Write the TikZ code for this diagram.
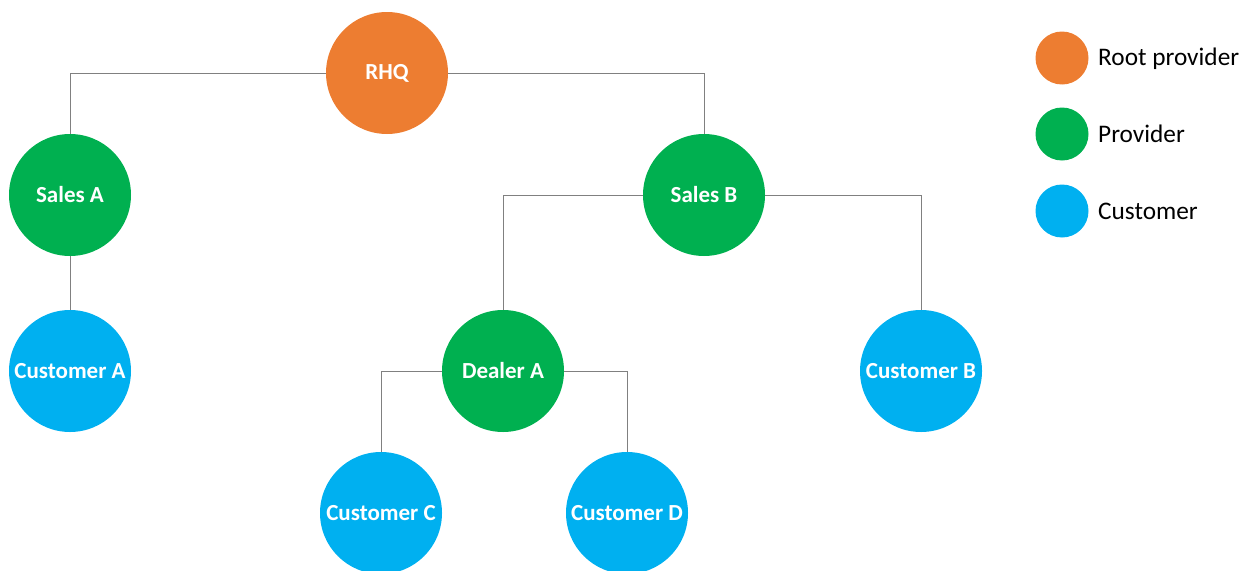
\documentclass[tikz,border=0pt]{standalone}
\usepackage{fontspec}
\setmainfont{Carlito}
\definecolor{rootc}{HTML}{ED7D31}
\definecolor{provc}{HTML}{00B050}
\definecolor{custc}{HTML}{00B0F0}
\definecolor{linec}{HTML}{808080}
\tikzset{
  org/.style={circle, minimum size=122pt, inner sep=0pt, text=white, font=\fontsize{23}{26}\selectfont\bfseries},
  rootn/.style={org, fill=rootc},
  provn/.style={org, fill=provc},
  custn/.style={org, fill=custc},
  legdot/.style={circle, minimum size=53pt, inner sep=0pt},
  legtext/.style={anchor=west, inner sep=0pt, font=\fontsize{25.3}{29}\selectfont},
  link/.style={draw=linec, line width=1pt}
}
\begin{document}
\begin{tikzpicture}[x=1pt,y=-1pt]
\useasboundingbox (0,0) rectangle (1252,570);
\node[rootn] (rhq) at (387,73) {RHQ};
\node[provn] (salesa) at (70,195) {Sales A};
\node[provn] (salesb) at (704,195) {Sales B};
\node[custn] (custa) at (70,371) {Customer A};
\node[provn] (dealera) at (503,371) {Dealer A};
\node[custn] (custb) at (921,371) {Customer B};
\node[custn] (custc) at (381,513) {Customer C};
\node[custn] (custd) at (627,513) {Customer D};
\draw[link] (rhq.west) -| (salesa.north);
\draw[link] (rhq.east) -| (salesb.north);
\draw[link] (salesa.south) -- (custa.north);
\draw[link] (salesb.west) -| (dealera.north);
\draw[link] (salesb.east) -| (custb.north);
\draw[link] (dealera.west) -| (custc.north);
\draw[link] (dealera.east) -| (custd.north);
% legend
\node[legdot, fill=rootc] (l1) at (1062,58) {};
\node[legdot, fill=provc] (l2) at (1062,134) {};
\node[legdot, fill=custc] (l3) at (1062,211) {};
\node[legtext] (t1) at (1098,59) {Root provider};
\node[legtext] (t2) at (1098,134) {Provider};
\node[legtext] (t3) at (1098,211) {Customer};
\end{tikzpicture}
\end{document}
